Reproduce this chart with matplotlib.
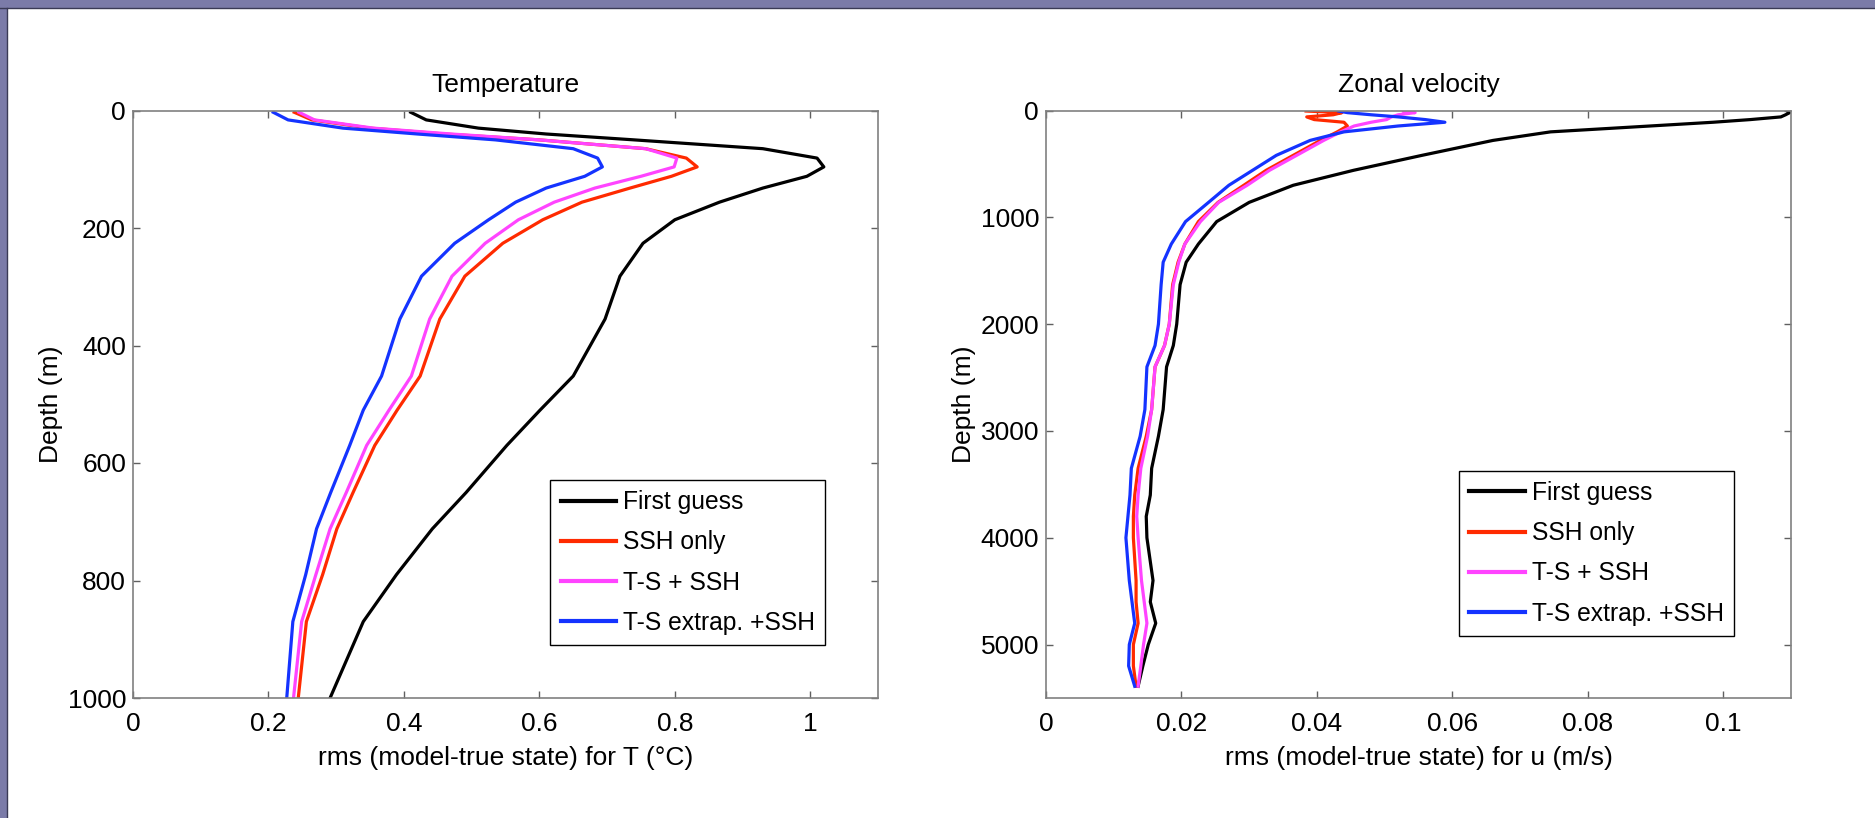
import numpy as np
import matplotlib
matplotlib.use("Agg")
import matplotlib.pyplot as plt
from matplotlib.patches import Rectangle

plt.rcParams['font.family'] = ['Liberation Sans', 'DejaVu Sans']
plt.rcParams['font.size'] = 19

# --- temperature panel data (depth in m, rms in degC)
depth_T = [3, 16, 30, 40, 50, 65, 81, 96, 112, 132, 156, 186, 226, 282,
           355, 452, 510, 570, 650, 712, 790, 870, 1000]
T_first = [0.41, 0.433, 0.51, 0.61, 0.74, 0.93, 1.01, 1.02, 0.995, 0.93, 0.866,
           0.80, 0.753, 0.719, 0.697, 0.65, 0.601, 0.552, 0.492, 0.442, 0.389,
           0.340, 0.291]
T_ssh = [0.238, 0.264, 0.35, 0.46, 0.60, 0.757, 0.817, 0.833, 0.795, 0.734,
         0.663, 0.605, 0.546, 0.490, 0.453, 0.424, 0.39, 0.357, 0.325, 0.301,
         0.28, 0.256, 0.244]
T_tsssh = [0.245, 0.268, 0.355, 0.47, 0.60, 0.757, 0.803, 0.799, 0.75, 0.682,
           0.622, 0.569, 0.520, 0.471, 0.438, 0.411, 0.378, 0.345, 0.315,
           0.291, 0.27, 0.249, 0.237]
T_extrap = [0.207, 0.229, 0.31, 0.42, 0.535, 0.65, 0.686, 0.693, 0.667, 0.61,
            0.565, 0.525, 0.475, 0.426, 0.394, 0.367, 0.34, 0.32, 0.292, 0.271,
            0.255, 0.236, 0.227]

# --- zonal velocity panel data (depth in m, rms in m/s)
depth_u = [5, 20, 40, 60, 85, 110, 145, 200, 280, 420, 560, 700, 860, 1040,
           1250, 1420, 1630, 2000, 2200, 2400, 2800, 3050, 3350, 3600, 3800,
           4000, 4400, 4600, 4800, 5000, 5200, 5390]
u_first = [0.1095, 0.1098, 0.1092, 0.1085, 0.104, 0.0985, 0.0892, 0.0745,
           0.066, 0.0555, 0.0454, 0.0365, 0.0300, 0.0252, 0.0225, 0.0207,
           0.0198, 0.0193, 0.0188, 0.0178, 0.0173, 0.0166, 0.0156, 0.0154,
           0.0148, 0.0149, 0.0158, 0.0154, 0.0162, 0.0151, 0.0143, 0.0136]
u_ssh = [0.0384, 0.0437, 0.0424, 0.0385, 0.0396, 0.044, 0.0445, 0.043, 0.0405,
         0.0365, 0.0325, 0.0292, 0.0254, 0.0225, 0.0205, 0.0195, 0.0187,
         0.0182, 0.0175, 0.0161, 0.0156, 0.0148, 0.0136, 0.0131, 0.0129,
         0.0129, 0.0133, 0.0133, 0.0136, 0.0129, 0.0129, 0.0133]
u_tsssh = [0.0528, 0.0545, 0.052, 0.051, 0.0503, 0.048, 0.0455, 0.0435, 0.041,
           0.037, 0.033, 0.0297, 0.0255, 0.0228, 0.0205, 0.0196, 0.0188,
           0.0182, 0.0175, 0.0161, 0.0156, 0.015, 0.014, 0.0136, 0.0134,
           0.0136, 0.0141, 0.0145, 0.0149, 0.0144, 0.014, 0.0136]
u_extrap = [0.0432, 0.0445, 0.048, 0.052, 0.056, 0.0589, 0.052, 0.044, 0.039,
            0.034, 0.0305, 0.027, 0.024, 0.0206, 0.0185, 0.0173, 0.017, 0.0166,
            0.0161, 0.0149, 0.0146, 0.0139, 0.0126, 0.0124, 0.0121, 0.0118,
            0.0123, 0.0127, 0.0131, 0.0123, 0.0122, 0.0131]

labels = ['First guess', 'SSH only', 'T-S + SSH', 'T-S extrap. +SSH']
colors = ['black', '#ff2a00', '#ff44ff', '#1433ff']

fig = plt.figure(figsize=(18.75, 8.18), dpi=100)

# purple slide frame (top and left)
fig.patches.append(Rectangle((0, 1 - 8 / 818), 1, 8 / 818, transform=fig.transFigure,
                             facecolor='#7b7ba8', edgecolor='none'))
fig.patches.append(Rectangle((0, 0), 7 / 1875, 1, transform=fig.transFigure,
                             facecolor='#7b7ba8', edgecolor='none'))
fig.lines.append(plt.Line2D([0, 1], [1 - 8 / 818, 1 - 8 / 818], transform=fig.transFigure,
                            color='#3a3a55', lw=1))
fig.lines.append(plt.Line2D([7 / 1875, 7 / 1875], [0, 1 - 8 / 818], transform=fig.transFigure,
                            color='#3a3a55', lw=1))

ax1 = fig.add_axes([133 / 1875, 120 / 818, 745 / 1875, 587.5 / 818])
ax2 = fig.add_axes([1046 / 1875, 120 / 818, 745 / 1875, 587.5 / 818])

for ys, c, lab in zip([T_first, T_ssh, T_tsssh, T_extrap], colors, labels):
    ax1.plot(ys, depth_T, color=c, lw=2.3, label=lab)
for ys, c, lab in zip([u_first, u_ssh, u_tsssh, u_extrap], colors, labels):
    ax2.plot(ys, depth_u, color=c, lw=2.3, label=lab)

ax1.set_xlim(0, 1.1)
ax1.set_ylim(1000, 0)
ax1.set_xticks([0, 0.2, 0.4, 0.6, 0.8, 1])
ax1.set_xticklabels(['0', '0.2', '0.4', '0.6', '0.8', '1'])
ax1.set_yticks([0, 200, 400, 600, 800, 1000])
ax1.set_title('Temperature', fontsize=19, pad=13)
ax1.set_xlabel('rms (model-true state) for T (°C)', labelpad=7)
ax1.set_ylabel('Depth (m)', labelpad=3)

ax2.set_xlim(0, 0.11)
ax2.set_ylim(5500, 0)
ax2.set_xticks([0, 0.02, 0.04, 0.06, 0.08, 0.1])
ax2.set_xticklabels(['0', '0.02', '0.04', '0.06', '0.08', '0.1'])
ax2.set_yticks([0, 1000, 2000, 3000, 4000, 5000])
ax2.set_title('Zonal velocity', fontsize=19, pad=13)
ax2.set_xlabel('rms (model-true state) for u (m/s)', labelpad=7)
ax2.set_ylabel('Depth (m)', labelpad=3)

for ax in (ax1, ax2):
    for s in ax.spines.values():
        s.set_color('#808080')
        s.set_linewidth(1.2)
    ax.tick_params(direction='in', length=5, width=1, color='#606060',
                   top=True, right=True, labelsize=19)
    ax.tick_params(axis='x', pad=10)
    ax.tick_params(axis='y', pad=5)

leg_kw = dict(loc='lower right', fontsize=17.7, frameon=True, fancybox=False,
              framealpha=1, edgecolor='black', borderaxespad=0,
              handlelength=2.25, handletextpad=0.28, labelspacing=0.66,
              borderpad=0.42)
l1 = ax1.legend(bbox_to_anchor=(0.929, 0.090), **leg_kw)
l2 = ax2.legend(bbox_to_anchor=(0.9235, 0.1056), **leg_kw)
for lg in (l1, l2):
    lg.get_frame().set_linewidth(1.0)
    for h in lg.get_lines():
        h.set_linewidth(3)

fig.savefig('out.png', dpi=100)
